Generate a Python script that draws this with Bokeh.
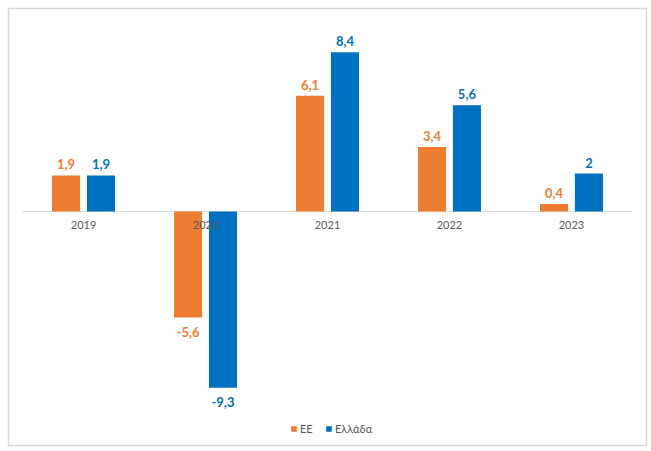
from bokeh.plotting import figure
from bokeh.models import ColumnDataSource, FactorRange, Legend
from bokeh.transform import dodge
from bokeh.core.properties import value
from bokeh.embed import file_html
from bokeh.resources import INLINE

years = ["2019", "2020", "2021", "2022", "2023"]
eu = [1.9, -5.6, 6.1, 3.4, 0.4]
gr = [1.9, -9.3, 8.4, 5.6, 2.0]
series_names = ["ΕΕ", "Ελλάδα"]

ORANGE = "#ED7D31"
BLUE = "#0070C0"
GREY = "#595959"
FONT = "Lato"

def fmt(v):
    return f"{v:g}".replace(".", ",")

src = ColumnDataSource(dict(
    year=years, eu=eu, gr=gr,
    eu_lab=[fmt(v) for v in eu], gr_lab=[fmt(v) for v in gr],
    eu_base=["bottom" if v >= 0 else "top" for v in eu],
    gr_base=["bottom" if v >= 0 else "top" for v in gr],
    eu_off=[-6 if v >= 0 else 9 for v in eu],
    gr_off=[-6 if v >= 0 else 9 for v in gr],
    zero=[0] * len(years),
))

p = figure(x_range=FactorRange(*years, range_padding=0.046), y_range=(-12.35, 10.71),
           width=650, height=450, output_backend="svg", toolbar_location=None,
           min_border_left=8, min_border_top=8, min_border_right=4, min_border_bottom=5)
p.axis.visible = False
p.grid.visible = False
p.outline_line_color = "#d9d9d9"
p.outline_line_width = 1.5
p.background_fill_color = "white"
p.border_fill_color = "white"

# zero line
p.line(x=[(years[0], -0.5), (years[-1], 0.5)], y=[0, 0], line_color="#d9d9d9", line_width=1)

OFF = 0.143
W = 0.23
r1 = p.vbar(x=dodge("year", -OFF, range=p.x_range), top="eu", bottom=0, width=W,
            source=src, fill_color=ORANGE, line_color=None)
r2 = p.vbar(x=dodge("year", OFF, range=p.x_range), top="gr", bottom=0, width=W,
            source=src, fill_color=BLUE, line_color=None)

p.text(x=dodge("year", -OFF, range=p.x_range), y="eu", text="eu_lab", source=src,
       text_align="center", text_baseline="eu_base", y_offset="eu_off",
       text_color=ORANGE, text_font=value(FONT), text_font_style="bold", text_font_size="13px")
p.text(x=dodge("year", OFF, range=p.x_range), y="gr", text="gr_lab", source=src,
       text_align="center", text_baseline="gr_base", y_offset="gr_off",
       text_color=BLUE, text_font=value(FONT), text_font_style="bold", text_font_size="13px")

# category labels under zero line
p.text(x="year", y="zero", text="year", source=src, text_align="center",
       text_baseline="top", y_offset=10, text_color=GREY, text_font=value(FONT),
       text_font_size="11px")

legend = Legend(items=[(series_names[0], [r1]), (series_names[1], [r2])],
                orientation="horizontal", location=(282, 10),
                border_line_color=None, background_fill_alpha=0,
                label_text_font=FONT, label_text_font_size="11px", label_text_color=GREY,
                glyph_width=7, glyph_height=7, label_standoff=3, spacing=5,
                padding=0, margin=0, label_height=12)
p.add_layout(legend, "center")

open("out.html", "w").write(file_html(p, INLINE))
